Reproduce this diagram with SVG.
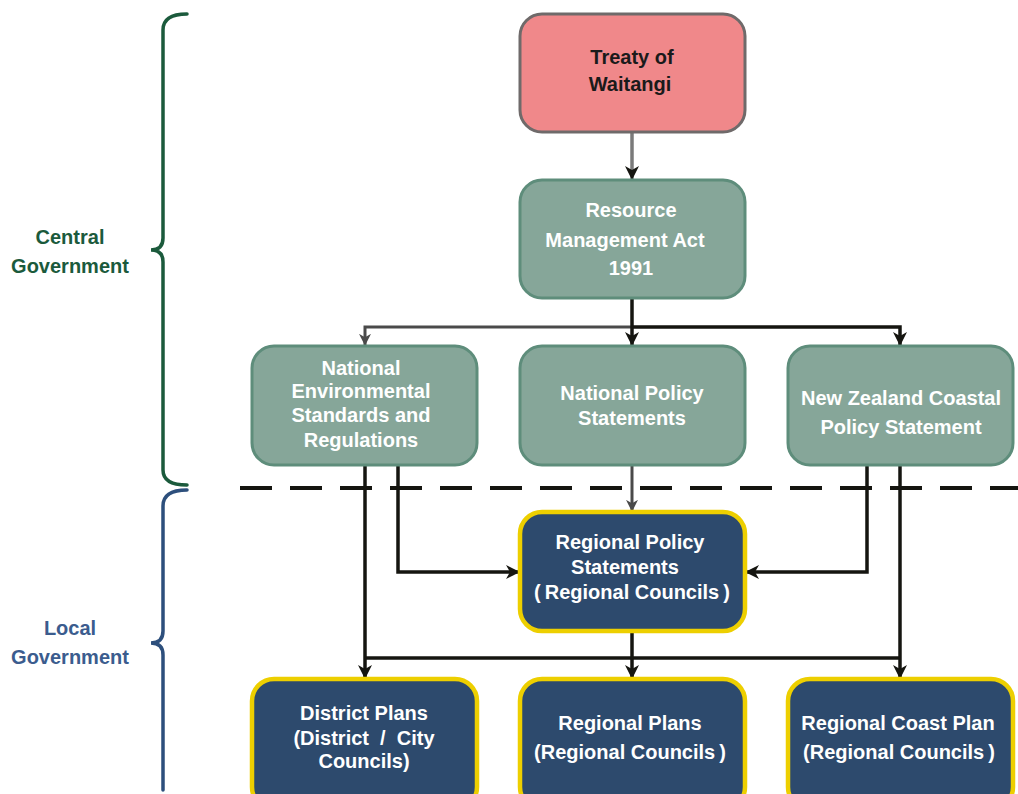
<svg xmlns="http://www.w3.org/2000/svg" width="1018" height="794" viewBox="0 0 1018 794">
<defs>
<marker id="ab" markerUnits="userSpaceOnUse" markerWidth="14" markerHeight="14" viewBox="0 0 14 14" refX="13" refY="7" orient="auto"><path d="M0,0 L14,7 L0,14 L4,7 Z" fill="#151510"/></marker>
<marker id="ag" markerUnits="userSpaceOnUse" markerWidth="12" markerHeight="12" viewBox="0 0 14 14" refX="13" refY="7" orient="auto"><path d="M0,0 L14,7 L0,14 L4,7 Z" fill="#4a4a4a"/></marker>
<style>
text{font-family:"Liberation Sans",Arial,sans-serif;font-weight:bold;font-size:20px;text-anchor:middle;dominant-baseline:central;white-space:pre}
.pink{fill:#F0888A;stroke:#6f6a6a;stroke-width:3}
.green{fill:#86A699;stroke:#5E8D7B;stroke-width:3}
.navy{fill:#2D4A6D;stroke:#EDCF00;stroke-width:4.5}
.w{fill:#ffffff}
.k{fill:#1a1a1a}
.c{fill:none;stroke:#151510;stroke-width:3.5}
.g{fill:none;stroke:#4a4a4a;stroke-width:3}
</style>
</defs>
<rect width="1018" height="794" fill="#ffffff"/>
<g id="braces" fill="none" stroke-width="3.5" stroke-linecap="round">
<path d="M187,14 Q163,14 163,30 L163,238 Q163,250 151,250 Q163,250 163,262 L163,470 Q163,485 187,485" stroke="#1B5A3C"/>
<path d="M187,490 Q163,490 163,506 L163,631 Q163,643 151,643 Q163,643 163,655 L163,790" stroke="#2D4F7C"/>
</g>
<g id="labels">
<text x="70" y="237" style="fill:#1B5A3C">Central</text>
<text x="70" y="266" style="fill:#1B5A3C">Government</text>
<text x="70" y="628" style="fill:#3B5C8E">Local</text>
<text x="70" y="657" style="fill:#3B5C8E">Government</text>
</g>
<line id="divider" x1="240" y1="488" x2="1018" y2="488" stroke="#151510" stroke-width="4" stroke-dasharray="32,18"/>
<g id="connectors">
<line x1="632" y1="132" x2="632" y2="179" stroke="#7a7a7a" stroke-width="3.5" marker-end="url(#ab)"/>
<polyline class="g" points="632,327 365,327 365,345" marker-end="url(#ag)"/>
<polyline class="c" points="632,327 900,327 900,345" marker-end="url(#ab)"/>
<line class="c" x1="632" y1="298" x2="632" y2="345" stroke-width="5" marker-end="url(#ab)"/>
<line class="g" x1="632" y1="465" x2="632" y2="511" stroke-width="2.5" marker-end="url(#ag)"/>
<polyline class="c" points="398,465 398,572 519,572" marker-end="url(#ab)"/>
<polyline class="c" points="867,465 867,572 746,572" marker-end="url(#ab)"/>
<line class="c" x1="365" y1="658" x2="900" y2="658"/>
<line class="c" x1="365" y1="465" x2="365" y2="678" marker-end="url(#ab)"/>
<line class="c" x1="900" y1="465" x2="900" y2="678" marker-end="url(#ab)"/>
<line class="c" x1="632" y1="631" x2="632" y2="678" marker-end="url(#ab)"/>
</g>
<g id="treaty"><rect class="pink" x="520" y="14" width="225" height="118" rx="22"/>
<text class="k" x="632" y="57">Treaty of</text><text class="k" x="630" y="84">Waitangi</text></g>
<g id="rma"><rect class="green" x="520" y="180" width="225" height="118" rx="22"/>
<text class="w" x="631" y="210">Resource</text><text class="w" x="625" y="240">Management Act</text><text class="w" x="631" y="268">1991</text></g>
<g id="nesr"><rect class="green" x="252" y="346" width="225" height="119" rx="22"/>
<text class="w" x="361" y="368">National</text><text class="w" x="361" y="391">Environmental</text><text class="w" x="361" y="415">Standards and</text><text class="w" x="361" y="440">Regulations</text></g>
<g id="nps"><rect class="green" x="520" y="346" width="225" height="119" rx="22"/>
<text class="w" x="632" y="393">National Policy</text><text class="w" x="632" y="418">Statements</text></g>
<g id="nzcps"><rect class="green" x="788" y="346" width="225" height="119" rx="22"/>
<text class="w" x="901" y="398">New Zealand Coastal</text><text class="w" x="901" y="427">Policy Statement</text></g>
<g id="rps"><rect class="navy" x="520" y="512" width="225" height="119" rx="22"/>
<text class="w" x="630" y="542">Regional Policy</text><text class="w" x="625" y="567">Statements</text><text class="w" x="632" y="592">(&#8201;Regional Councils&#8201;)</text></g>
<g id="district"><rect class="navy" x="252" y="679" width="225" height="130" rx="22"/>
<text class="w" x="364" y="713">District Plans</text><text class="w" x="364" y="738">(District  /  City</text><text class="w" x="364" y="761">Councils)</text></g>
<g id="regional"><rect class="navy" x="520" y="679" width="225" height="130" rx="22"/>
<text class="w" x="630" y="723">Regional Plans</text><text class="w" x="630" y="752">(Regional Councils&#8201;)</text></g>
<g id="coast"><rect class="navy" x="788" y="679" width="225" height="130" rx="22"/>
<text class="w" x="898" y="723">Regional Coast Plan</text><text class="w" x="899" y="752">(Regional Councils&#8201;)</text></g>
</svg>
